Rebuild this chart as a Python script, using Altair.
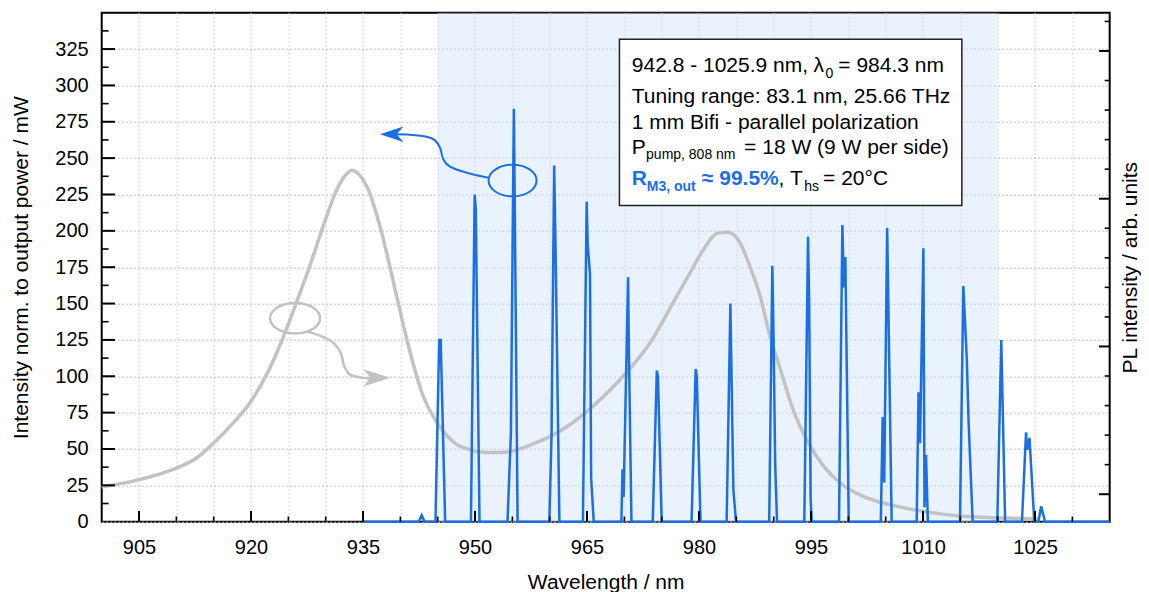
import altair as alt
import pandas as pd

# ---------------- data ----------------
# PL spectrum (gray), in left-axis units
pl_wl = [900, 905, 910, 912.7, 915, 917.4, 920, 922.3, 924.1, 925.9,
         927.7, 929.9, 931.5, 932.6, 933.5, 934.5, 935.7, 937.5, 939.3, 941.1,
         942.9, 945.2, 947.3, 949.3, 951.5, 953.5, 955.6, 958, 960.1, 962.5,
         965, 969, 973.45, 977, 978.8, 980.6, 982.6, 983.9, 985.5, 986.8,
         988.2, 989.5, 990.9, 992.6, 994.4, 996.7, 998.9, 1002, 1005.6, 1010.1,
         1014.5, 1021.2, 1025.5]
pl_val = [23.9, 28.9, 36.9, 43.8, 54.1, 66.7, 82.8, 103.4, 124.1, 148.2,
          173.4, 206.6, 228.4, 238, 241.7, 238.5, 228.4, 198.6, 159.6, 120.6,
          88.5, 66, 54.1, 49.5, 47.5, 47.5, 49.5, 54, 58.7, 66,
          75.9, 95.4, 123, 155, 171.1, 187.2, 198.6, 199, 191.8, 175.7,
          155, 127.5, 104.6, 77, 56.4, 38, 26.6, 17.4, 11.7, 7.1,
          4.1, 2.5, 1.8]

# Laser output spectra (blue)
las_wl = [935.0,
          942.45, 942.86, 943.25,
          944.7, 945.2, 945.4, 946.0,
          949.45, 949.95, 950.1, 950.6,
          954.35, 954.8, 955.2, 955.3, 955.7,
          959.95, 960.25, 960.6, 960.75, 961.3,
          964.45, 964.95, 965.1, 965.4, 965.55, 965.9,
          969.6, 969.75, 969.9, 970.3, 970.5, 970.6, 970.95,
          973.8, 974.35, 974.5, 975.0,
          979.0, 979.55, 979.7, 980.2,
          983.7, 984.2, 984.6, 984.95,
          989.4, 989.82, 990.0, 990.2, 990.45,
          994.1, 994.6, 994.75, 994.95, 995.1,
          998.75, 999.2, 999.4, 999.6, 1000.05,
          1004.35, 1004.6, 1004.8, 1005.2, 1005.8,
          1009.15, 1009.4, 1009.6, 1010.05, 1010.2, 1010.4, 1010.65,
          1014.95, 1015.4, 1015.87, 1016.1, 1016.65,
          1019.95, 1020.48, 1021.0,
          1023.25, 1023.8, 1023.95, 1024.26, 1024.9,
          1025.45, 1025.82, 1026.35,
          1035.0]
las_val = [0,
           0, 4.5, 0,
           0, 125, 125, 0,
           0, 225, 215, 0,
           0, 60, 284, 230, 0,
           0, 60, 245, 200, 0,
           0, 220, 190, 170, 30, 0,
           0, 36, 17, 118, 168, 120, 0,
           0, 104, 100, 0,
           0, 105, 100, 0,
           0, 150, 22, 0,
           0, 176, 120, 40, 0,
           0, 196, 150, 15, 0,
           0, 204, 161, 182, 0,
           0, 72, 27, 202, 0,
           0, 89, 54, 188, 10, 46, 0,
           0, 162, 111, 69, 0,
           0, 125, 0,
           0, 61.5, 49.5, 57.6, 0,
           0, 10.5, 0,
           0]

tuning_range = [945.1, 1019.9]          # shaded band (nm)

x_major = [905, 920, 935, 950, 965, 980, 995, 1010, 1025]
x_minor = [910, 915, 925, 930, 940, 945, 955, 960, 970, 975, 985, 990,
           1000, 1005, 1015, 1020, 1030]
x_grid = sorted(x_major + x_minor)
y_major = [25, 50, 75, 100, 125, 150, 175, 200, 225, 250, 275, 300, 325]
y_labels = [0] + y_major
y_minor = [12.5, 37.5, 62.5, 87.5, 112.5, 137.5, 162.5, 187.5, 212.5, 237.5,
           262.5, 287.5, 312.5, 337.5]
r_major = [0, 1, 2, 3]
r_minor = [0.2, 0.4, 0.6, 0.8, 1.2, 1.4, 1.6, 1.8, 2.2, 2.4, 2.6, 2.8, 3.2]

# annotation shapes (data units)
blue_arrow_wl = [951.79, 948.90, 946.66, 945.76, 945.32, 944.65, 943.54, 941.30, 939.3]
blue_arrow_val = [236.5, 239.9, 244.1, 249.1, 257.1, 262.2, 264.7, 266.1, 266.4]
gray_arrow_wl = [927.46, 929.47, 931.02, 932.02, 932.46, 933.26, 935.04, 936.3]
gray_arrow_val = [130.9, 127.5, 123.0, 116.1, 107.3, 101.1, 98.9, 98.9]

# ---------------- style ----------------
BLUE = "#1c6fe0"
GRAY = "#c2c2c2"
FONT = "Liberation Sans"
W, H = 1008, 509
xs = alt.Scale(domain=[900, 1035], nice=False, zero=False)
ys = alt.Scale(domain=[0, 350], nice=False, zero=False)
rs = alt.Scale(domain=[-0.186, 3.259], nice=False, zero=False)

x_axis = alt.Axis(values=x_grid, format="d",
                  labelExpr="datum.value % 15 == 5 ? datum.label : ''",
                  ticks=False, tickSize=0, domain=False, grid=True, gridColor="#d2d2d2",
                  gridDash=[2, 2], gridWidth=1, labelFontSize=20, labelPadding=15.5,
                  labelOverlap=False, labelFlush=False, labelColor="black",
                  title="Wavelength / nm", titleFontSize=21, titleFontWeight="normal",
                  titleY=67, titleBaseline="alphabetic", titleColor="black")
y_axis = alt.Axis(values=y_labels, ticks=False, tickSize=0, domain=False, grid=True,
                  gridColor="#bdbdbd", gridDash=[2, 2], gridWidth=1,
                  labelFontSize=20, labelPadding=13.5, labelColor="black",
                  title="Intensity norm. to output power / mW", titleFontSize=21,
                  titleFontWeight="normal", titleX=-74.7, titleY=254.5, titleAngle=270,
                  titleAlign="center", titleBaseline="alphabetic", titleColor="black")
r_axis = alt.Axis(orient="right", labels=False, ticks=False, domain=False, grid=False,
                  title="PL intensity / arb. units", titleFontSize=21, titleFontWeight="normal",
                  titleX=26.5, titleY=254.5, titleAngle=270, titleAlign="center",
                  titleBaseline="alphabetic", titleColor="black")


def X(f):
    return alt.X(f, type="quantitative", scale=xs, axis=x_axis)


def Y(f):
    return alt.Y(f, type="quantitative", scale=ys, axis=y_axis)


def R(f):
    return alt.Y(f, type="quantitative", scale=rs, axis=r_axis)


# shaded tuning band
shade = alt.Chart(pd.DataFrame({"x0": [tuning_range[0]], "x1": [tuning_range[1]],
                                "y0": [0], "y1": [350]})).mark_rect(
    fill="#cfe3fa", opacity=0.45).encode(x=X("x0"), x2="x1", y=Y("y0"), y2="y1")

pl_df = pd.DataFrame({"wl": pl_wl, "v": pl_val})
gray = alt.Chart(pl_df).mark_line(color=GRAY, strokeWidth=3.5, interpolate="monotone").encode(
    x=X("wl"), y=Y("v"))

las_df = pd.DataFrame({"wl": las_wl, "v": las_val})
blue = alt.Chart(las_df).mark_line(color=BLUE, strokeWidth=2.5).encode(x=X("wl"), y=Y("v"))

# annotations: ellipses, curved arrows, arrow heads
ell_blue = "M-1,0C-1,-0.364,-0.552,-0.66,0,-0.66C0.552,-0.66,1,-0.364,1,0C1,0.364,0.552,0.66,0,0.66C-0.552,0.66,-1,0.364,-1,0Z"
ell_gray = "M-1,0C-1,-0.337,-0.552,-0.61,0,-0.61C0.552,-0.61,1,-0.337,1,0C1,0.337,0.552,0.61,0,0.61C-0.552,0.61,-1,0.337,-1,0Z"
head_left = "M-1,0L1,-0.67L0.43,0L1,0.67Z"
head_right = "M1,0L-1,-0.65L-0.5,0L-1,0.65Z"

e1 = alt.Chart(pd.DataFrame({"wl": [955.03], "v": [234.6]})).mark_point(
    shape=ell_blue, size=2304, filled=False, color=BLUE, strokeWidth=2, opacity=1).encode(
    x=X("wl"), y=Y("v"))
e2 = alt.Chart(pd.DataFrame({"wl": [925.9], "v": [139.9]})).mark_point(
    shape=ell_gray, size=2500, filled=False, color=GRAY, strokeWidth=2.5, opacity=1).encode(
    x=X("wl"), y=Y("v"))
a1 = alt.Chart(pd.DataFrame({"wl": blue_arrow_wl, "v": blue_arrow_val,
                             "i": list(range(len(blue_arrow_wl)))})).mark_line(
    color=BLUE, strokeWidth=2, interpolate="cardinal").encode(
    x=X("wl"), y=Y("v"), order=alt.Order("i:Q"))
a2 = alt.Chart(pd.DataFrame({"wl": gray_arrow_wl, "v": gray_arrow_val,
                             "i": list(range(len(gray_arrow_wl)))})).mark_line(
    color=GRAY, strokeWidth=2.5, interpolate="cardinal").encode(
    x=X("wl"), y=Y("v"), order=alt.Order("i:Q"))
h1 = alt.Chart(pd.DataFrame({"wl": [938.84], "v": [266.4]})).mark_point(
    shape=head_left, size=544, filled=True, color=BLUE, opacity=1).encode(x=X("wl"), y=Y("v"))
h2 = alt.Chart(pd.DataFrame({"wl": [936.84], "v": [98.9]})).mark_point(
    shape=head_right, size=711, filled=True, color=GRAY, opacity=1).encode(x=X("wl"), y=Y("v"))

# info box
box = alt.Chart(pd.DataFrame({"x0": [969.34], "x1": [1015.2], "y0": [217.4], "y1": [331.7]})).mark_rect(
    fill="white", stroke="#222222", strokeWidth=1.5).encode(x=X("x0"), x2="x1", y=Y("y0"), y2="y1")

txt_norm = pd.DataFrame({
    "t": ["942.8 - 1025.9 nm,", "\u03bb", "= 984.3 nm", "Tuning range: 83.1 nm, 25.66 THz",
          "1 mm Bifi - parallel polarization", "P", "= 18 W (9 W per side)", ",", "T", "= 20\u00b0C"],
    "wl": [971.0, 995.33, 998.66, 971.0, 971.0, 971.0, 986.04, 990.64, 992.2, 996.62],
    "v": [309.2, 309.2, 309.2, 288.1, 270.2, 252.5, 252.5, 231.2, 231.2, 231.2]})
txt_sub = pd.DataFrame({"t": ["0", "pump, 808 nm", "hs"],
                        "wl": [996.95, 972.91, 994.1], "v": [305.3, 249.1, 227.3]})
txt_bold = pd.DataFrame({"t": ["R", "\u2248 99.5%"], "wl": [971.0, 980.38], "v": [231.2, 231.2]})
txt_bold_sub = pd.DataFrame({"t": ["M3, out"], "wl": [973.0], "v": [227.3]})


def text_layer(df, size, color, weight):
    return alt.Chart(df).mark_text(align="left", baseline="alphabetic", font=FONT,
                                   fontSize=size, color=color, fontWeight=weight).encode(
        x=X("wl"), y=Y("v"), text="t:N")


t1 = text_layer(txt_norm, 21, "black", "normal")
t2 = text_layer(txt_sub, 14, "black", "normal")
t3 = text_layer(txt_bold, 21, BLUE, "bold")
t4 = text_layer(txt_bold_sub, 14, BLUE, "bold")

# inward ticks
xt_major = alt.Chart(pd.DataFrame({"x": x_major, "y0": 0, "y1": 7.4})).mark_rule(
    color="black", strokeWidth=2).encode(x=X("x"), y=Y("y0"), y2="y1")
xt_minor = alt.Chart(pd.DataFrame({"x": x_minor, "y0": 0, "y1": 3.6})).mark_rule(
    color="black", strokeWidth=1.6).encode(x=X("x"), y=Y("y0"), y2="y1")
yt_major = alt.Chart(pd.DataFrame({"y": y_major, "x0": 900, "x1": 901.78})).mark_rule(
    color="black", strokeWidth=2).encode(y=Y("y"), x=X("x0"), x2="x1")
yt_minor = alt.Chart(pd.DataFrame({"y": y_minor, "x0": 900, "x1": 900.92})).mark_rule(
    color="black", strokeWidth=1.6).encode(y=Y("y"), x=X("x0"), x2="x1")

inner = alt.layer(shade, gray, blue, e1, e2, a1, a2, h1, h2, box, t1, t2, t3, t4,
                  xt_major, xt_minor, yt_major, yt_minor)

# right axis (PL intensity, arb. units)
rt_major = alt.Chart(pd.DataFrame({"u": r_major, "x0": 1033.57, "x1": 1035})).mark_rule(
    color="black", strokeWidth=2).encode(y=R("u"), x=X("x0"), x2="x1")
rt_minor = alt.Chart(pd.DataFrame({"u": r_minor, "x0": 1034.33, "x1": 1035})).mark_rule(
    color="black", strokeWidth=1.6).encode(y=R("u"), x=X("x0"), x2="x1")
right = alt.layer(rt_major, rt_minor)

chart = alt.layer(inner, right).resolve_scale(y="independent").properties(
    width=W, height=H,
    padding={"left": 93.7, "top": 4.7, "right": 31, "bottom": 70},
    autosize=alt.AutoSizeParams(type="none"),
).configure(font=FONT).configure_view(stroke="black", strokeWidth=2).configure_axis(
    labelFont=FONT, titleFont=FONT)

chart.save("out.html", embed_options={"renderer": "svg", "actions": False})
